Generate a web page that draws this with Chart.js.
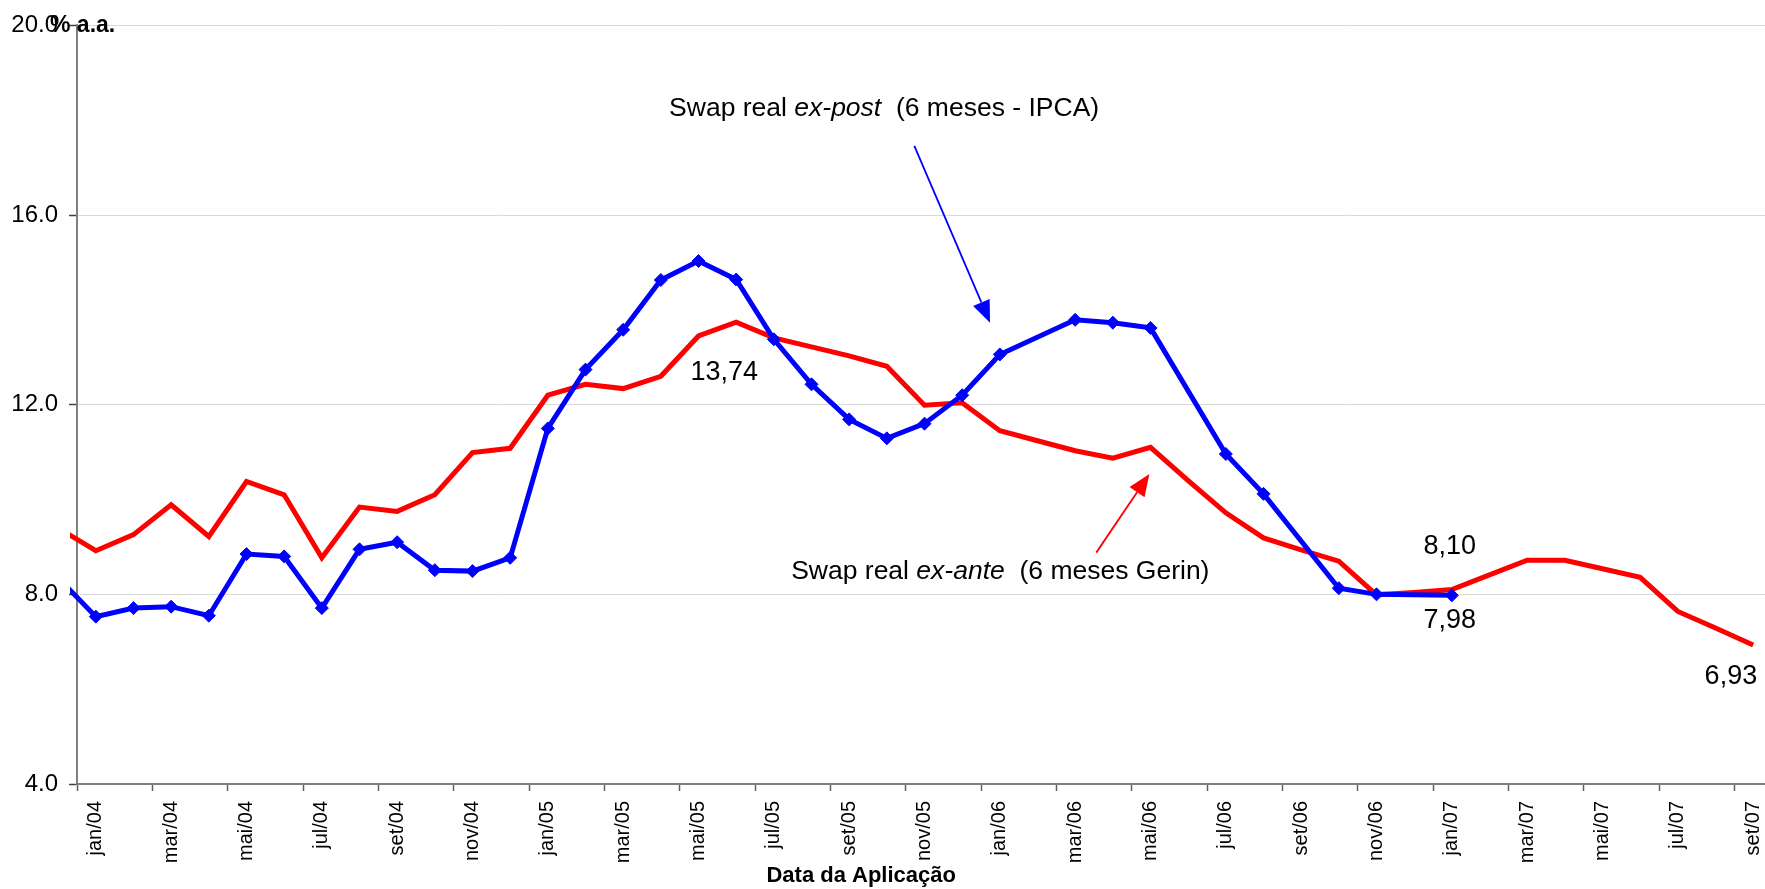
<!DOCTYPE html>
<html lang="pt-BR">
<head>
<meta charset="utf-8">
<title>Swap real ex-post e ex-ante</title>
<script src="https://cdn.jsdelivr.net/npm/chart.js@4/dist/chart.umd.min.js"></script>
<style>
  html, body { margin: 0; padding: 0; background: #ffffff; overflow: hidden; }
  #wrap { position: absolute; left: 0; top: 0; width: 1790px; height: 889px; }
</style>
</head>
<body>
<div id="wrap"><canvas id="chart" width="1790" height="889"></canvas></div>
<script>
// Data da aplicação (mensal)
const months = [
  'dez/03',
  'jan/04', 'fev/04', 'mar/04', 'abr/04', 'mai/04', 'jun/04', 'jul/04', 'ago/04', 'set/04', 'out/04', 'nov/04', 'dez/04',
  'jan/05', 'fev/05', 'mar/05', 'abr/05', 'mai/05', 'jun/05', 'jul/05', 'ago/05', 'set/05', 'out/05', 'nov/05', 'dez/05',
  'jan/06', 'fev/06', 'mar/06', 'abr/06', 'mai/06', 'jun/06', 'jul/06', 'ago/06', 'set/06', 'out/06', 'nov/06', 'dez/06',
  'jan/07', 'fev/07', 'mar/07', 'abr/07', 'mai/07', 'jun/07', 'jul/07', 'ago/07', 'set/07'
];

// Swap real ex-post (6 meses - IPCA), % a.a.
const exPost = [
  8.35,
  7.53, 7.71, 7.74, 7.55, 8.85, 8.80, 7.71, 8.95, 9.10, 8.51, 8.49, 8.77,
  11.50, 12.74, 13.58, 14.63, 15.03, 14.64, 13.38, 12.43, 11.69, 11.29, 11.60, 12.20,
  13.06, null, 13.79, 13.73, 13.62, null, 10.96, 10.12, null, 8.13, 8.00, null,
  7.98, null, null, null, null, null, null, null, null
];

// Swap real ex-ante (6 meses Gerin), % a.a.
const exAnte = [
  9.40,
  8.92, 9.26, 9.89, 9.22, 10.38, 10.10, 8.77, 9.84, 9.75, 10.10, 10.99, 11.08,
  12.20, 12.43, 12.34, 12.60, 13.45, 13.74, 13.41, 13.22, 13.03, 12.81, 11.99, 12.04,
  11.45, 11.24, 11.03, 10.87, 11.10, 10.40, 9.72, 9.19, 8.94, 8.70, 7.99, 8.04,
  8.10, 8.41, 8.72, 8.72, 8.54, 8.36, 7.64, 7.29, 6.93
];

// Escala do eixo vertical
const yTicks = [4, 8, 12, 16, 20];

const FONT = "'Liberation Sans', Arial, Helvetica, sans-serif";
const BLUE = '#0000FF';
const RED = '#FF0000';

const fmt = v => v.toFixed(2).replace('.', ',');

// Rótulos de valor junto aos pontos destacados
const valueLabels = [
  { series: exAnte, month: 'jun/05', dx: -12, dy: 58, align: 'center' },
  { series: exAnte, month: 'jan/07', dx: -2, dy: -36, align: 'center' },
  { series: exPost, month: 'jan/07', dx: -2, dy: 33, align: 'center' },
  { series: exAnte, month: 'set/07', dx: 4, dy: 39, align: 'right' }
];

// Legendas das séries (posição em coordenadas de dados: índice do mês, % a.a.)
const captions = [
  { parts: [['Swap real ', false], ['ex-post', true], ['  (6 meses - IPCA)', false]], at: [16.22, 18.09] },
  { parts: [['Swap real ', false], ['ex-ante', true], ['  (6 meses Gerin)', false]], at: [19.46, 8.32] }
];
const arrows = [
  { from: [22.73, 17.46], to: [24.74, 13.73], color: BLUE },
  { from: [27.56, 8.88], to: [28.97, 10.54], color: RED }
];

function drawRich(ctx, parts, x, y, size) {
  let cx = x;
  ctx.textAlign = 'left';
  ctx.textBaseline = 'alphabetic';
  for (const [txt, italic] of parts) {
    ctx.font = (italic ? 'italic ' : '') + size + 'px ' + FONT;
    ctx.fillText(txt, cx, y);
    cx += ctx.measureText(txt).width;
  }
}

function drawArrow(ctx, x1, y1, x2, y2, color) {
  const a = Math.atan2(y2 - y1, x2 - x1);
  const len = 22, half = 9;
  const bx = x2 - len * Math.cos(a), by = y2 - len * Math.sin(a);
  ctx.strokeStyle = color;
  ctx.lineWidth = 1.8;
  ctx.beginPath();
  ctx.moveTo(x1, y1);
  ctx.lineTo(bx, by);
  ctx.stroke();
  ctx.fillStyle = color;
  ctx.beginPath();
  ctx.moveTo(x2, y2);
  ctx.lineTo(bx + half * Math.sin(a), by - half * Math.cos(a));
  ctx.lineTo(bx - half * Math.sin(a), by + half * Math.cos(a));
  ctx.closePath();
  ctx.fill();
}

const annotationsPlugin = {
  id: 'swapAnnotations',
  afterDraw(chart) {
    const { ctx, chartArea } = chart;
    const xs = chart.scales.x, ys = chart.scales.y;
    const px = i => xs.getPixelForValue(i);
    const py = v => ys.getPixelForValue(v);
    ctx.save();
    ctx.fillStyle = '#000000';

    captions.forEach(c => drawRich(ctx, c.parts, px(c.at[0]), py(c.at[1]), 26.5));
    arrows.forEach(a => drawArrow(ctx, px(a.from[0]), py(a.from[1]), px(a.to[0]), py(a.to[1]), a.color));

    ctx.fillStyle = '#000000';
    ctx.font = '27px ' + FONT;
    ctx.textBaseline = 'alphabetic';
    valueLabels.forEach(l => {
      const i = months.indexOf(l.month);
      const v = l.series[i];
      ctx.textAlign = l.align;
      ctx.fillText(fmt(v), px(i) + l.dx, py(v) + l.dy);
    });

    // unidade do eixo vertical
    ctx.font = 'bold 23px ' + FONT;
    ctx.textAlign = 'left';
    ctx.fillText('% a.a.', chartArea.left - 27, chartArea.top + 7);

    // título do eixo horizontal
    ctx.font = 'bold 22px ' + FONT;
    ctx.textAlign = 'center';
    ctx.fillText('Data da Aplicação', px(21.32), chart.height - 7);
    ctx.restore();
  }
};

new Chart(document.getElementById('chart'), {
  type: 'line',
  data: {
    labels: months,
    datasets: [
      {
        label: 'Swap real ex-post (6 meses - IPCA)',
        data: exPost,
        order: 0,
        borderColor: BLUE,
        backgroundColor: BLUE,
        borderWidth: 5,
        tension: 0,
        spanGaps: true,
        pointStyle: 'rectRot',
        pointRadius: 6.5,
        pointBorderWidth: 1,
        pointBackgroundColor: BLUE,
        pointBorderColor: BLUE,
        clip: { left: 7, top: 10, right: 10, bottom: 10 }
      },
      {
        label: 'Swap real ex-ante (6 meses Gerin)',
        data: exAnte,
        order: 1,
        borderColor: RED,
        backgroundColor: RED,
        borderWidth: 5,
        tension: 0,
        pointRadius: 0,
        clip: { left: 7, top: 10, right: 10, bottom: 10 }
      }
    ]
  },
  options: {
    responsive: false,
    animation: false,
    devicePixelRatio: 1,
    layout: { padding: { top: 21, right: 18, bottom: 0, left: 0 } },
    plugins: {
      legend: { display: false },
      tooltip: { enabled: false }
    },
    scales: {
      x: {
        type: 'category',
        min: 'jan/04',
        offset: true,
        afterFit: s => { s.height = 105; },
        border: { display: true, color: '#808080', width: 2 },
        grid: {
          offset: true,
          drawOnChartArea: false,
          drawTicks: true,
          tickLength: 7,
          tickWidth: 1.5,
          tickColor: c => (c.index !== undefined && c.index % 2 === 0) ? '#606060' : 'rgba(0,0,0,0)'
        },
        ticks: {
          autoSkip: false,
          maxRotation: 90,
          minRotation: 90,
          padding: 10,
          color: '#000000',
          font: { family: FONT, size: 20 },
          callback: function (value, index) {
            return index % 2 === 0 ? this.getLabelForValue(value) : '';
          }
        }
      },
      y: {
        min: yTicks[0],
        max: yTicks[yTicks.length - 1],
        afterFit: s => { s.width = 77; },
        border: { display: true, color: '#808080', width: 2 },
        grid: {
          color: '#d9d9d9',
          lineWidth: 1,
          drawTicks: true,
          tickLength: 8,
          tickColor: '#404040',
          tickWidth: 1.5
        },
        ticks: {
          stepSize: yTicks[1] - yTicks[0],
          padding: 11,
          color: '#000000',
          font: { family: FONT, size: 24 },
          callback: v => Number(v).toFixed(1)
        }
      }
    }
  },
  plugins: [annotationsPlugin]
});
</script>
</body>
</html>
